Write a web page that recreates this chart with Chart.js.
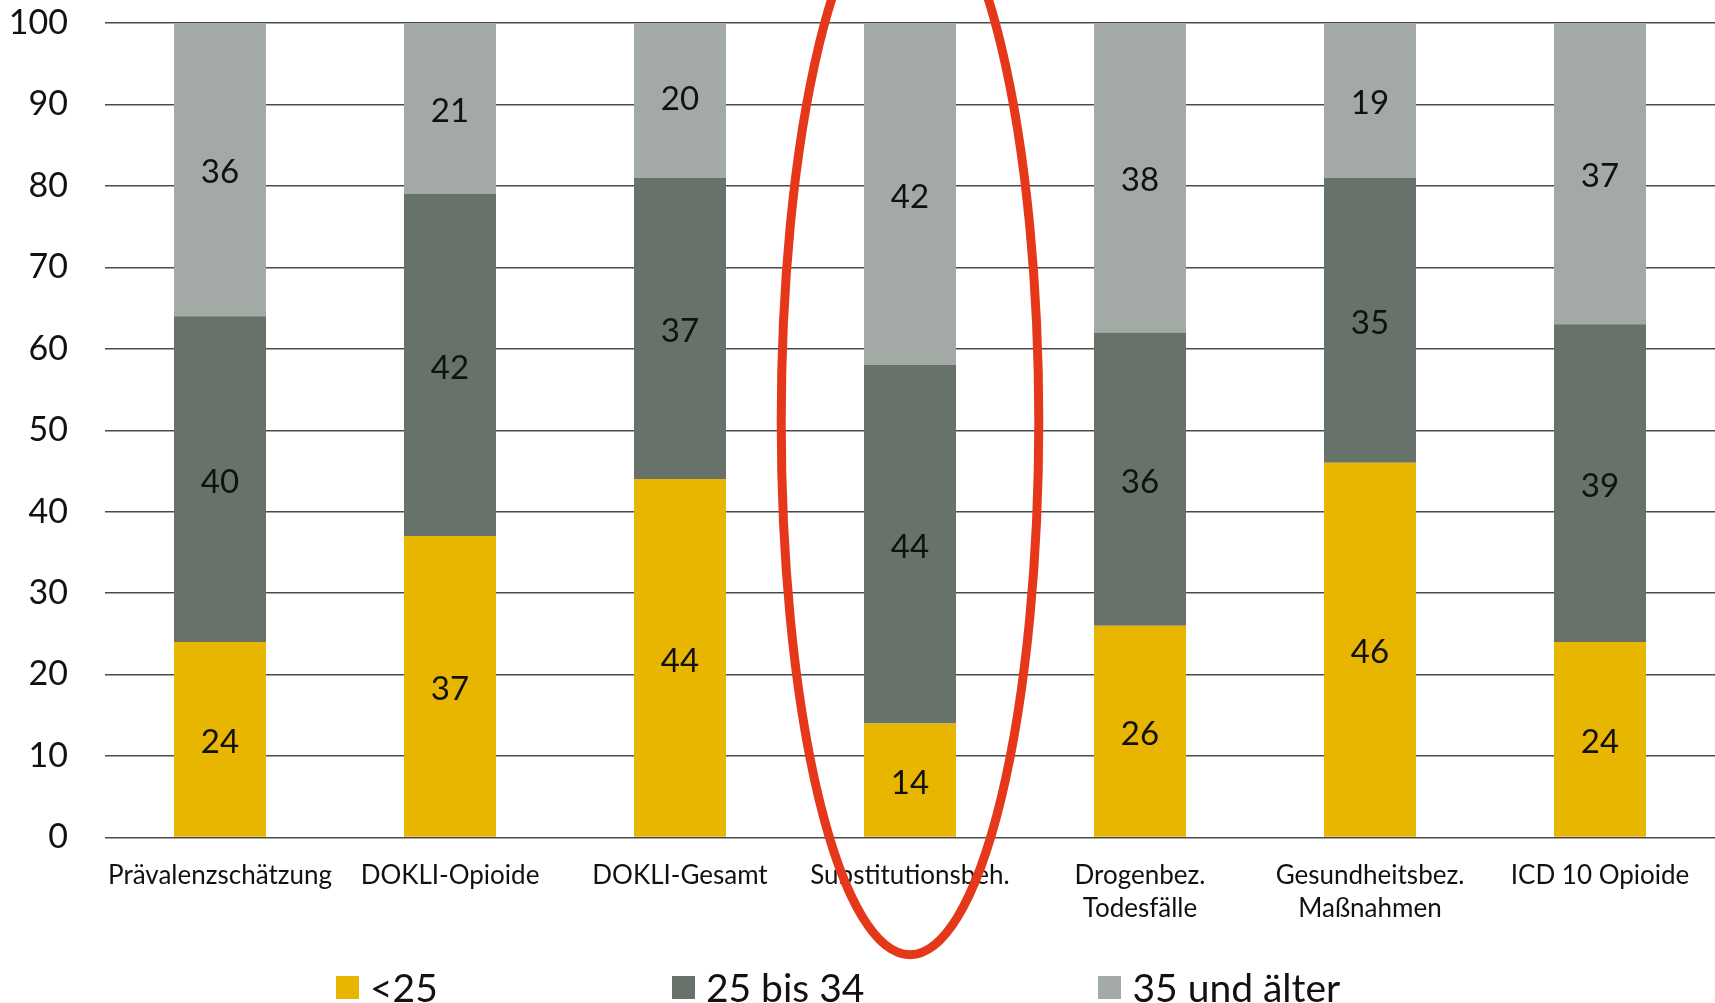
<!DOCTYPE html>
<html lang="de">
<head>
<meta charset="utf-8">
<title>Altersverteilung</title>
<script src="https://cdn.jsdelivr.net/npm/chart.js@4/dist/chart.umd.min.js"></script>
<style>
  html, body { margin: 0; padding: 0; background: #fff; overflow: hidden; }
  .wrap { position: relative; width: 1715px; height: 1003px; }
  .legend {
    position: absolute; left: 336px; top: 968px;
    display: flex; gap: 234px; align-items: center;
    font: 39px Lato, sans-serif; color: #111; line-height: 1;
  }
  .legend span.item { display: flex; align-items: center; gap: 11px; }
  .legend i { display: inline-block; width: 23px; height: 23px; }
</style>
</head>
<body>
<div class="wrap">
  <canvas id="chart"></canvas>
  <div class="legend" id="legend"></div>
</div>
<script>
const categories = [
  'Prävalenzschätzung',
  'DOKLI-Opioide',
  'DOKLI-Gesamt',
  'Substitutionsbeh.',
  ['Drogenbez.', 'Todesfälle'],
  ['Gesundheitsbez.', 'Maßnahmen'],
  'ICD 10 Opioide'
];
const seriesNames = ['<25', '25 bis 34', '35 und älter'];
const under25 = [24, 37, 44, 14, 26, 46, 24];
const age25to34 = [40, 42, 37, 44, 36, 35, 39];
const age35plus = [36, 21, 20, 42, 38, 19, 37];
const seriesColors = ['#E8B600', '#67726A', '#A3AAA5'];
const yTicks = [0, 10, 20, 30, 40, 50, 60, 70, 80, 90, 100];

// highlighted category (red ellipse), in axis units
const highlightIndex = 3;
const highlightCenter = 51;
const highlightHalfHeight = 65.4;
const highlightHalfWidth = 0.56; // share of one category width

const segmentLabels = {
  id: 'segmentLabels',
  afterDatasetsDraw(chart) {
    const { ctx } = chart;
    ctx.save();
    ctx.font = '33px Lato';
    ctx.fillStyle = '#111';
    ctx.textAlign = 'center';
    ctx.textBaseline = 'middle';
    chart.data.datasets.forEach((ds, i) => {
      chart.getDatasetMeta(i).data.forEach((bar, j) => {
        const { x, y, base } = bar.getProps(['x', 'y', 'base'], true);
        ctx.fillText(ds.data[j], x, (y + base) / 2 + 3);
      });
    });
    ctx.restore();
  }
};

const ellipse = {
  id: 'ellipse',
  afterDraw(chart) {
    const { ctx, scales: { x, y } } = chart;
    const cx = x.getPixelForValue(highlightIndex);
    const cy = y.getPixelForValue(highlightCenter);
    const ry = cy - y.getPixelForValue(highlightCenter + highlightHalfHeight);
    const rx = (x.width / categories.length) * highlightHalfWidth;
    ctx.save();
    ctx.strokeStyle = '#E5381B';
    ctx.lineWidth = 9;
    ctx.beginPath();
    ctx.ellipse(cx, cy, rx, ry, 0, 0, Math.PI * 2);
    ctx.stroke();
    ctx.restore();
  }
};

const datasets = [under25, age25to34, age35plus].map((data, i) => ({
  label: seriesNames[i],
  data,
  backgroundColor: seriesColors[i],
  borderWidth: 0,
  barPercentage: 0.4,
  categoryPercentage: 1
}));

document.getElementById('legend').innerHTML = seriesNames
  .map((n, i) => `<span class="item"><i style="background:${seriesColors[i]}"></i>${n.replace('<', '&lt;')}</span>`)
  .join('');

new Chart(document.getElementById('chart'), {
  type: 'bar',
  data: { labels: categories, datasets },
  options: {
    responsive: true,
    maintainAspectRatio: false,
    animation: false,
    layout: { padding: { top: 23, left: 0, right: 0, bottom: 64 } },
    plugins: { legend: { display: false }, tooltip: { enabled: false } },
    scales: {
      x: {
        stacked: true,
        grid: { display: false },
        border: { display: false },
        ticks: {
          color: '#111',
          font: { family: 'Lato', size: 26, lineHeight: 1.3 },
          padding: 13,
          maxRotation: 0,
          autoSkip: false
        }
      },
      y: {
        stacked: true,
        min: 0,
        max: 100,
        afterBuildTicks: axis => { axis.ticks = yTicks.map(v => ({ value: v })); },
        afterFit: axis => { axis.width = 105; axis.paddingTop = 0; },
        grid: { color: '#4a4a4a', lineWidth: 1.4, drawTicks: false },
        border: { display: false },
        ticks: {
          color: '#111',
          font: { family: 'Lato', size: 34 },
          padding: 37
        }
      }
    }
  },
  plugins: [segmentLabels, ellipse]
});
</script>
</body>
</html>
